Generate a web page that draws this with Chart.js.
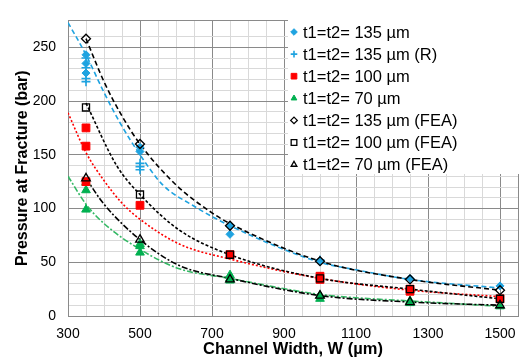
<!DOCTYPE html>
<html>
<head>
<meta charset="utf-8">
<script src="https://cdn.jsdelivr.net/npm/chart.js@4.4.1/dist/chart.umd.min.js"></script>
<style>
  html, body { margin: 0; padding: 0; background: #fff; }
  #wrap { width: 528px; height: 360px; }
</style>
</head>
<body>
<div id="wrap"><canvas id="chart" width="528" height="360"></canvas></div>
<script>
// measured points (x = channel width, y = pressure)
const blueX = [350, 350, 350, 500, 500, 750, 750, 1000, 1250, 1500];
const blueY = [243, 235, 226, 157, 153, 84, 76, 51, 35, 28];
const blueRX = [350, 350, 350, 350, 500, 500, 500, 1000, 1250];
const blueRY = [240, 231, 221, 218, 142, 139, 136, 52, 34];
const redX = [350, 350, 350, 500, 750, 1000, 1000, 1250, 1250, 1500];
const redY = [175, 158, 125, 103, 57, 37, 34, 25, 23, 16];
const greenX = [350, 350, 350, 500, 500, 500, 750, 750, 750, 1000, 1000, 1250, 1250, 1500];
const greenY = [124, 117, 99, 67, 65, 59, 38, 35, 33, 19, 16, 14, 12, 9];

// FEA results
const feaX = [350, 500, 750, 1000, 1250, 1500];
const fea135 = [258, 160, 84, 51, 34, 24];
const fea100 = [194, 113, 57, 35, 25, 16];
const fea70 = [128, 71, 34, 19, 13, 10];

// trend curves
const fit135X = [300, 350, 400, 444, 500, 563, 646, 750, 1000, 1100, 1250, 1500];
const fit135Y = [273, 243, 208, 180, 150, 122, 103, 84, 50, 43, 34, 26];
const fitFea135X = [350, 400, 450, 500, 600, 700, 750, 1000, 1250, 1500];
const fitFea135Y = [258, 218, 186, 160, 122, 96, 86, 51, 34, 24];
const fit100X = [300, 350, 400, 450, 500, 609, 750, 1000, 1250, 1500];
const fit100Y = [189, 152, 126, 105, 90, 67, 53, 35, 24, 18];
const fitFea100X = [350, 435, 500, 609, 750, 1000, 1250, 1500];
const fitFea100Y = [198, 140, 113, 80, 57, 35, 25, 16];
const fit70X = [300, 350, 400, 500, 609, 750, 1000, 1100, 1250, 1500];
const fit70Y = [130, 104, 86, 62, 44, 35, 20, 17, 14, 9];
const fitFea70X = [350, 400, 500, 609, 750, 1000, 1250, 1500];
const fitFea70Y = [128, 104, 71, 47, 35, 19, 13, 10];

const xTicks = [300, 500, 700, 900, 1100, 1300, 1500];
const yTicks = [0, 50, 100, 150, 200, 250];

const BLUE = '#1fa3e0', RED = '#ff0000', GREEN = '#00b050';
const FONT = '"Liberation Sans", Arial, sans-serif';

function pts(xs, ys) {
  return xs.map((x, i) => ({ x: x, y: ys[i] }));
}

function curve(xs, ys, color, dash) {
  return {
    data: pts(xs, ys), showLine: true, pointRadius: 0, borderColor: color,
    borderWidth: 1.6, borderDash: dash, cubicInterpolationMode: 'monotone', fill: false
  };
}

const markers = [
  { label: 't1=t2= 135 µm (FEA)', data: pts(feaX, fea135), pointStyle: 'rectRot', pointRadius: 4.5,
    borderColor: '#000', backgroundColor: 'rgba(0,0,0,0)', pointBorderWidth: 1.3 },
  { label: 't1=t2= 100 µm (FEA)', data: pts(feaX, fea100), pointStyle: 'rect', pointRadius: 5,
    borderColor: '#000', backgroundColor: 'rgba(0,0,0,0)', pointBorderWidth: 1.3 },
  { label: 't1=t2= 70 µm (FEA)', data: pts(feaX, fea70), pointStyle: 'triangle', pointRadius: 5,
    borderColor: '#000', backgroundColor: 'rgba(0,0,0,0)', pointBorderWidth: 1.3 },
  { label: 't1=t2= 135 µm', data: pts(blueX, blueY), pointStyle: 'rectRot', pointRadius: 4,
    borderColor: BLUE, backgroundColor: BLUE, pointBorderWidth: 1 },
  { label: 't1=t2= 135 µm (R)', data: pts(blueRX, blueRY), pointStyle: 'cross', pointRadius: 4.5,
    borderColor: BLUE, backgroundColor: BLUE, pointBorderWidth: 1.6 },
  { label: 't1=t2= 100 µm', data: pts(redX, redY), pointStyle: 'rect', pointRadius: 5.5,
    borderColor: RED, backgroundColor: RED, pointBorderWidth: 1 },
  { label: 't1=t2= 70 µm', data: pts(greenX, greenY), pointStyle: 'triangle', pointRadius: 5,
    borderColor: GREEN, backgroundColor: GREEN, pointBorderWidth: 1 }
];
markers.forEach(m => { m.showLine = false; });

const curves = [
  curve(fitFea135X, fitFea135Y, '#000', [5, 3]),
  curve(fit135X, fit135Y, BLUE, [5, 3]),
  curve(fitFea100X, fitFea100Y, '#000', [3, 2]),
  curve(fit100X, fit100Y, RED, [2, 2]),
  curve(fitFea70X, fitFea70Y, '#000', [6, 2, 2, 2]),
  curve(fit70X, fit70Y, '#33b864', [6, 2, 2, 2])
];

// legend order as in the picture
const legendOrder = [3, 4, 5, 6, 0, 1, 2];

const boxLegend = {
  id: 'boxLegend',
  beforeDatasetsDraw(chart) {
    const ctx = chart.ctx;
    ctx.save();
    ctx.fillStyle = '#fff';
    ctx.fillRect(288, 16, 232, 158);
    ctx.font = '16.5px ' + FONT;
    ctx.fillStyle = '#000';
    ctx.textBaseline = 'middle';
    legendOrder.forEach((k, i) => {
      const m = markers[k];
      const y = 32 + i * 22.1;
      const opts = {
        pointStyle: m.pointStyle, radius: m.pointStyle === 'rect' ? 4 : 3.3,
        rotation: 0, borderWidth: m.pointBorderWidth
      };
      ctx.strokeStyle = m.borderColor;
      ctx.fillStyle = m.backgroundColor;
      ctx.lineWidth = m.pointBorderWidth;
      Chart.helpers.drawPoint(ctx, opts, 294, y);
      ctx.fillStyle = '#000';
      ctx.fillText(m.label, 303, y + 1);
    });
    ctx.restore();
  }
};

const MAJOR = '#8a8a8a', MINOR = '#d9d9d9';

new Chart(document.getElementById('chart').getContext('2d'), {
  type: 'scatter',
  data: { datasets: markers.concat(curves) },
  options: {
    responsive: false,
    animation: false,
    layout: { padding: { top: 11, right: 6, left: 0, bottom: 0 } },
    plugins: { legend: { display: false }, tooltip: { enabled: false } },
    scales: {
      x: {
        type: 'linear', min: 300, max: 1550,
        afterFit: s => { s.height = 44; },
        border: { display: true, color: MAJOR },
        grid: {
          drawTicks: false,
          color: c => (xTicks.includes(c.tick.value) || c.tick.value === 1550) ? MAJOR : MINOR
        },
        ticks: {
          stepSize: 50, autoSkip: false, maxRotation: 0, padding: 10,
          color: '#000', font: { family: FONT, size: 14 },
          callback: v => xTicks.includes(v) ? String(v) : ''
        },
        title: {
          display: true, text: 'Channel Width, W (µm)', color: '#000',
          font: { family: FONT, size: 16.5, weight: 'bold' }, padding: { bottom: 1 }
        }
      },
      y: {
        min: 0, max: 275,
        afterFit: s => { s.width = 68; },
        border: { display: true, color: MAJOR },
        grid: {
          drawTicks: false,
          color: c => (yTicks.includes(c.tick.value) || c.tick.value === 275) ? MAJOR : MINOR
        },
        ticks: {
          stepSize: 10, autoSkip: false, padding: 12,
          color: '#000', font: { family: FONT, size: 14 },
          callback: v => yTicks.includes(v) ? String(v) : ''
        },
        title: {
          display: true, text: 'Pressure at Fracture (bar)', color: '#000',
          font: { family: FONT, size: 16, weight: 'bold' }, padding: { top: 13 }
        }
      }
    }
  },
  plugins: [boxLegend]
});
</script>
</body>
</html>
